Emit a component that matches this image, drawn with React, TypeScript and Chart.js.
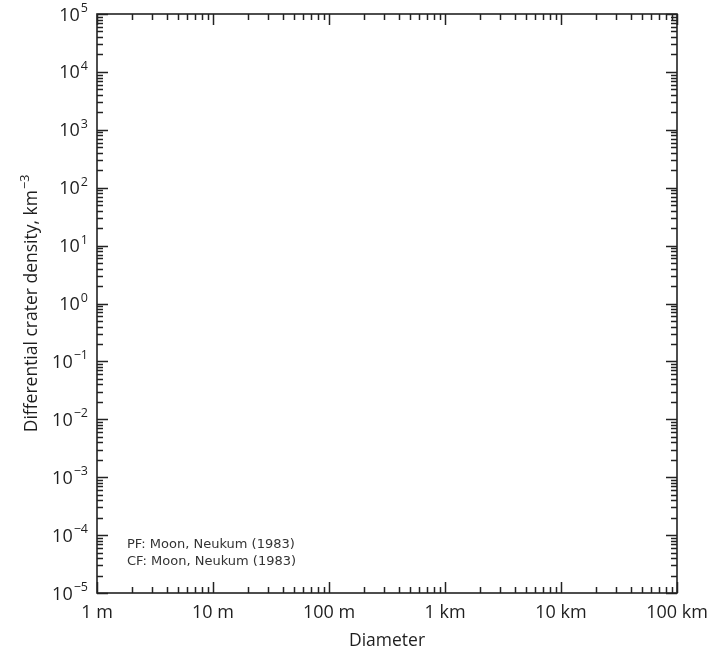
import React, { useEffect, useRef } from "react";
import { Chart, registerables } from "chart.js";

Chart.register(...registerables);

// ---- data (diameter in km, density in km^-3) ----
const xMin = 0.001;
const xMax = 100;
const yMin = 1e-5;
const yMax = 1e5;
const xTickValues = [0.001, 0.01, 0.1, 1, 10, 100];
const xTickLabels = ["1 m", "10 m", "100 m", "1 km", "10 km", "100 km"];
const yTickExponents = [-5, -4, -3, -2, -1, 0, 1, 2, 3, 4, 5];
const minorMultipliers = [2, 3, 4, 5, 6, 7, 8, 9];
const xTitle = "Diameter";
const yTitleMain = "Differential crater density, km";
const yTitleSup = "\u22123";
const noteLines = ["PF: Moon, Neukum (1983)", "CF: Moon, Neukum (1983)"];

const TEXT = "#1e1e1e";
const FONT = "'Open Sans', 'Noto Sans', sans-serif";

function decadeRange(lo: number, hi: number): number[] {
  const out: number[] = [];
  for (let e = Math.round(Math.log10(lo)); e <= Math.round(Math.log10(hi)); e++) out.push(e);
  return out;
}

const framePlugin = {
  id: "craterFrame",
  beforeDraw(chart: any) {
    const ctx = chart.ctx;
    ctx.save();
    ctx.fillStyle = "#ffffff";
    ctx.fillRect(0, 0, chart.width, chart.height);
    ctx.restore();
  },
  afterDraw(chart: any) {
    const ctx: CanvasRenderingContext2D = chart.ctx;
    const { left, right, top, bottom } = chart.chartArea;
    const xs = chart.scales.x;
    const ys = chart.scales.y;
    const MAJ = 11;
    const MIN = 6;
    ctx.save();

    const line = (x1: number, y1: number, x2: number, y2: number) => {
      ctx.beginPath();
      ctx.moveTo(x1, y1);
      ctx.lineTo(x2, y2);
      ctx.stroke();
    };

    ctx.strokeStyle = "#222222";
    ctx.lineWidth = 1.5;

    // x ticks (bottom + mirrored top)
    for (const e of decadeRange(xMin, xMax)) {
      const base = Math.pow(10, e);
      const px = Math.round(xs.getPixelForValue(base)) + 0.5;
      line(px, bottom, px, bottom - MAJ);
      line(px, top, px, top + MAJ);
      for (const m of minorMultipliers) {
        const v = m * base;
        if (v >= xMax) continue;
        const p = Math.round(xs.getPixelForValue(v)) + 0.5;
        line(p, bottom, p, bottom - MIN);
        line(p, top, p, top + MIN);
      }
    }
    // y ticks (left + mirrored right)
    for (const e of decadeRange(yMin, yMax)) {
      const base = Math.pow(10, e);
      const py = Math.round(ys.getPixelForValue(base)) + 0.5;
      line(left, py, left + MAJ, py);
      line(right, py, right - MAJ, py);
      for (const m of minorMultipliers) {
        const v = m * base;
        if (v >= yMax) continue;
        const p = Math.round(ys.getPixelForValue(v)) + 0.5;
        line(left, p, left + MIN, p);
        line(right, p, right - MIN, p);
      }
    }

    // frame
    ctx.lineWidth = 1.6;
    ctx.strokeStyle = "#222222";
    ctx.strokeRect(left, top, right - left, bottom - top);

    ctx.fillStyle = TEXT;
    ctx.textBaseline = "alphabetic";

    // x tick labels
    ctx.font = `18px ${FONT}`;
    ctx.textAlign = "center";
    xTickValues.forEach((v, i) => {
      ctx.fillText(xTickLabels[i], xs.getPixelForValue(v), bottom + 25);
    });

    // x title
    ctx.font = `17.5px ${FONT}`;
    ctx.fillText(xTitle, (left + right) / 2, bottom + 53);

    // y tick labels 10^e
    const baseFont = `18px ${FONT}`;
    const expFont = `12.5px ${FONT}`;
    ctx.textAlign = "left";
    for (const e of yTickExponents) {
      const py = ys.getPixelForValue(Math.pow(10, e));
      const expStr = e < 0 ? "\u2212" + Math.abs(e) : String(e);
      ctx.font = baseFont;
      const wb = ctx.measureText("10").width;
      ctx.font = expFont;
      const we = ctx.measureText(expStr).width;
      const xEnd = left - 9;
      const x0 = xEnd - wb - we - 1;
      ctx.font = baseFont;
      ctx.fillText("10", x0, py + 6.5);
      ctx.font = expFont;
      ctx.fillText(expStr, x0 + wb + 1, py - 2);
    }

    // y title (rotated)
    ctx.save();
    const cy = (top + bottom) / 2;
    ctx.translate(37, cy);
    ctx.rotate(-Math.PI / 2);
    ctx.font = `17.5px ${FONT}`;
    const wm = ctx.measureText(yTitleMain).width;
    ctx.font = `12.5px ${FONT}`;
    const ws = ctx.measureText(yTitleSup).width;
    const start = -(wm + ws + 1) / 2;
    ctx.textAlign = "left";
    ctx.font = `17.5px ${FONT}`;
    ctx.fillText(yTitleMain, start, 0);
    ctx.font = `12.5px ${FONT}`;
    ctx.fillText(yTitleSup, start + wm + 1, -8);
    ctx.restore();

    // note text
    ctx.fillStyle = "#333333";
    ctx.font = `13px 'DejaVu Sans', sans-serif`;
    ctx.textAlign = "left";
    noteLines.forEach((t, i) => {
      ctx.fillText(t, left + 30, bottom - 45 + i * 17);
    });

    ctx.restore();
  },
};

export default function App() {
  const canvasRef = useRef<HTMLCanvasElement | null>(null);

  useEffect(() => {
    const canvas = canvasRef.current;
    if (!canvas) return;
    const chart = new Chart(canvas, {
      type: "scatter",
      data: { datasets: [{ data: [] }] },
      options: {
        animation: false,
        responsive: false,
        devicePixelRatio: 1,
        layout: { padding: { left: 97, top: 14, right: 42, bottom: 56 } },
        scales: {
          x: { type: "logarithmic", min: xMin, max: xMax, display: false },
          y: { type: "logarithmic", min: yMin, max: yMax, display: false },
        },
        plugins: { legend: { display: false }, tooltip: { enabled: false } },
      },
      plugins: [framePlugin],
    } as any);
    return () => chart.destroy();
  }, []);

  return (
    <div style={{ position: "fixed", left: 0, top: 0, width: 719, height: 649, background: "#fff" }}>
      <canvas ref={canvasRef} width={719} height={649} style={{ display: "block", width: 719, height: 649 }} />
    </div>
  );
}
